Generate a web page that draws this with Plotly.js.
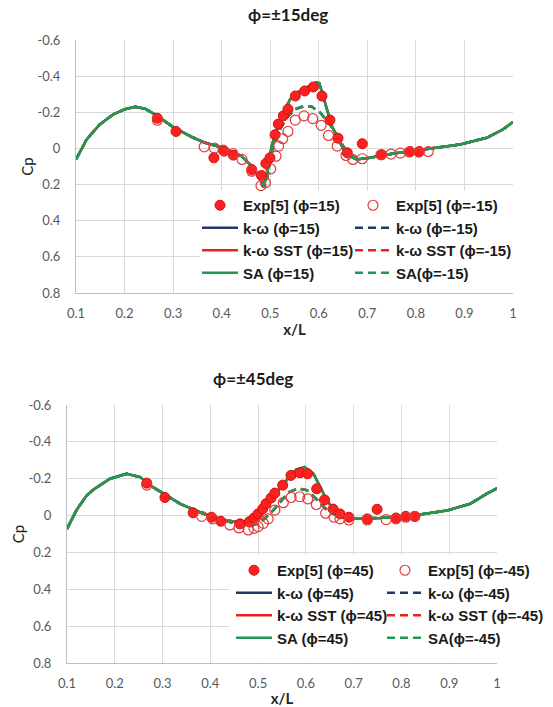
<!DOCTYPE html>
<html>
<head>
<meta charset="utf-8">
<script src="https://cdn.plot.ly/plotly-3.0.1.min.js"></script>
<style>html,body{margin:0;padding:0;background:#fff;}#chart{width:553px;height:707px;}</style>
</head>
<body>
<div id="chart"></div>
<script>
// ---------- Top chart: phi = ±15 deg ----------
const exp15X = [0.2675,0.306,0.384,0.405,0.424,0.462,0.482,0.491,0.4995,0.510,0.5166,0.527,0.5366,0.5517,0.571,0.5887,0.6066,0.623,0.6395,0.6587,0.6896,0.7295,0.7878,0.807];
const exp15Cp = [-0.167,-0.094,0.052,0.015,0.037,0.117,0.150,0.083,0.052,-0.076,-0.135,-0.180,-0.217,-0.290,-0.318,-0.340,-0.290,-0.157,-0.057,0.024,-0.026,0.035,0.017,0.017];
const expM15X = [0.2675,0.364,0.385,0.403,0.4227,0.442,0.462,0.481,0.490,0.501,0.512,0.5174,0.5256,0.5366,0.5517,0.5695,0.5874,0.605,0.620,0.638,0.656,0.670,0.6896,0.728,0.7487,0.768,0.7864,0.806,0.8255];
const expM15Cp = [-0.156,-0.009,-0.002,0.009,0.028,0.061,0.126,0.206,0.190,0.113,0.043,-0.013,-0.054,-0.094,-0.157,-0.180,-0.165,-0.128,-0.072,-0.013,0.039,0.061,0.057,0.035,0.031,0.026,0.020,0.020,0.017];

// CFD curves (k-ω, k-ω SST and SA overlap almost exactly in the picture)
const cfd15X = [0.100,0.122,0.149,0.177,0.201,0.222,0.242,0.266,0.300,0.342,0.366,0.403,0.441,0.462,0.479,0.486,0.494,0.503,0.513,0.527,0.541,0.555,0.575,0.594,0.601,0.613,0.627,0.644,0.657,0.678,0.705,0.754,0.822,0.891,0.946,0.980,1.000];
const cfd15Cp = [0.061,-0.050,-0.133,-0.189,-0.217,-0.230,-0.220,-0.183,-0.118,-0.059,-0.031,-0.004,0.043,0.098,0.163,0.215,0.135,-0.013,-0.096,-0.198,-0.272,-0.309,-0.337,-0.365,-0.361,-0.254,-0.124,-0.031,0.033,0.061,0.052,0.028,0.002,-0.022,-0.059,-0.106,-0.146];
const cfdM15X = [0.100,0.122,0.149,0.177,0.201,0.222,0.242,0.266,0.300,0.342,0.366,0.403,0.441,0.462,0.479,0.487,0.494,0.506,0.520,0.534,0.551,0.568,0.585,0.603,0.620,0.637,0.650,0.664,0.681,0.705,0.754,0.822,0.891,0.946,0.980,1.000];
const cfdM15Cp = [0.061,-0.050,-0.133,-0.189,-0.217,-0.230,-0.220,-0.183,-0.118,-0.059,-0.031,-0.004,0.043,0.098,0.163,0.212,0.160,-0.013,-0.106,-0.170,-0.217,-0.232,-0.232,-0.198,-0.143,-0.078,-0.013,0.035,0.058,0.052,0.028,0.002,-0.022,-0.059,-0.106,-0.146];

// ---------- Bottom chart: phi = ±45 deg ----------
const exp45X = [0.267,0.305,0.364,0.4025,0.422,0.462,0.4815,0.4914,0.500,0.5096,0.5165,0.527,0.535,0.5515,0.5688,0.5876,0.6036,0.6226,0.639,0.657,0.6714,0.690,0.7285,0.749,0.7886,0.809,0.828];
const exp45Cp = [-0.176,-0.098,-0.015,0.009,0.031,0.045,0.034,0.013,-0.009,-0.036,-0.064,-0.095,-0.122,-0.165,-0.218,-0.232,-0.227,-0.145,-0.085,-0.035,-0.009,0.009,0.018,-0.034,0.013,0.004,0.004];
const expM45X = [0.267,0.382,0.405,0.441,0.460,0.4795,0.4914,0.500,0.511,0.521,0.535,0.5527,0.569,0.587,0.604,0.6218,0.6414,0.6588,0.6714,0.690,0.7285,0.768,0.7886,0.809,0.828];
const expM45Cp = [-0.165,0.004,0.018,0.051,0.067,0.078,0.069,0.060,0.042,0.018,-0.030,-0.070,-0.098,-0.102,-0.091,-0.060,-0.013,0.009,0.018,0.024,0.024,0.022,0.018,0.009,0.005];

const cfd45X = [0.100,0.120,0.141,0.155,0.190,0.211,0.225,0.253,0.280,0.337,0.378,0.420,0.462,0.480,0.497,0.515,0.532,0.553,0.580,0.597,0.616,0.626,0.644,0.657,0.671,0.699,0.755,0.825,0.895,0.944,0.978,1.000];
const cfd45Cp = [0.072,-0.030,-0.109,-0.140,-0.200,-0.218,-0.227,-0.209,-0.154,-0.064,-0.018,0.024,0.036,0.040,0.010,-0.050,-0.100,-0.173,-0.249,-0.263,-0.227,-0.173,-0.082,-0.036,0.000,0.015,0.013,0.000,-0.027,-0.064,-0.118,-0.148];
const cfdM45X = [0.100,0.120,0.141,0.155,0.190,0.211,0.225,0.253,0.280,0.337,0.378,0.420,0.462,0.480,0.497,0.515,0.532,0.550,0.565,0.584,0.602,0.620,0.640,0.660,0.680,0.699,0.755,0.825,0.895,0.944,0.978,1.000];
const cfdM45Cp = [0.072,-0.030,-0.109,-0.140,-0.200,-0.218,-0.227,-0.209,-0.154,-0.064,-0.018,0.024,0.045,0.060,0.045,0.015,-0.030,-0.085,-0.127,-0.147,-0.138,-0.095,-0.040,-0.005,0.012,0.015,0.013,0.000,-0.027,-0.064,-0.118,-0.148];

// ---------- Axis ticks ----------
const xTickVals = [0.1,0.2,0.3,0.4,0.5,0.6,0.7,0.8,0.9,1];
const xTickText = ["0.1","0.2","0.3","0.4","0.5","0.6","0.7","0.8","0.9","1"];
const yTickVals = [-0.6,-0.4,-0.2,0,0.2,0.4,0.6,0.8];
const yTickText = ["-0.6","-0.4","-0.2","0","0.2","0.4","0.6","0.8"];

const BLUE = '#203864', RED = '#E8231F', GREEN = '#1F9A52';

function lineTrace(x, y, name, color, dash, xa, ya, leg, rank) {
  return {x: x, y: y, name: name, type: 'scatter', mode: 'lines',
    line: {color: color, width: 2.5, dash: dash},
    xaxis: xa, yaxis: ya, legend: leg, legendrank: rank, hoverinfo: 'skip'};
}
function expTrace(x, y, name, filled, xa, ya, leg, rank) {
  return {x: x, y: y, name: name, type: 'scatter', mode: 'markers',
    marker: filled ? {symbol: 'circle', size: 10, color: '#FF1F1F', line: {color: '#D01010', width: 1}}
                   : {symbol: 'circle-open', size: 10, color: '#E23B3B', line: {width: 1.2}},
    xaxis: xa, yaxis: ya, legend: leg, legendrank: rank, hoverinfo: 'skip'};
}
const DASH = '8px,5px';

const traces = [
  lineTrace(cfd15X, cfd15Cp, 'k-ω (ϕ=15)', BLUE, 'solid', 'x', 'y', 'legend', 2),
  lineTrace(cfdM15X, cfdM15Cp, 'k-ω (ϕ=-15)', BLUE, DASH, 'x', 'y', 'legend2', 2),
  lineTrace(cfd15X, cfd15Cp, 'k-ω SST (ϕ=15)', RED, 'solid', 'x', 'y', 'legend', 3),
  lineTrace(cfdM15X, cfdM15Cp, 'k-ω SST (ϕ=-15)', RED, DASH, 'x', 'y', 'legend2', 3),
  lineTrace(cfd15X, cfd15Cp, 'SA (ϕ=15)', GREEN, 'solid', 'x', 'y', 'legend', 4),
  lineTrace(cfdM15X, cfdM15Cp, 'SA(ϕ=-15)', GREEN, DASH, 'x', 'y', 'legend2', 4),
  expTrace(exp15X, exp15Cp, 'Exp[5] (ϕ=15)', true, 'x', 'y', 'legend', 1),
  expTrace(expM15X, expM15Cp, 'Exp[5] (ϕ=-15)', false, 'x', 'y', 'legend2', 1),

  lineTrace(cfd45X, cfd45Cp, 'k-ω (ϕ=45)', BLUE, 'solid', 'x2', 'y2', 'legend3', 2),
  lineTrace(cfdM45X, cfdM45Cp, 'k-ω (ϕ=-45)', BLUE, DASH, 'x2', 'y2', 'legend4', 2),
  lineTrace(cfd45X, cfd45Cp, 'k-ω SST (ϕ=45)', RED, 'solid', 'x2', 'y2', 'legend3', 3),
  lineTrace(cfdM45X, cfdM45Cp, 'k-ω SST (ϕ=-45)', RED, DASH, 'x2', 'y2', 'legend4', 3),
  lineTrace(cfd45X, cfd45Cp, 'SA (ϕ=45)', GREEN, 'solid', 'x2', 'y2', 'legend3', 4),
  lineTrace(cfdM45X, cfdM45Cp, 'SA(ϕ=-45)', GREEN, DASH, 'x2', 'y2', 'legend4', 4),
  expTrace(exp45X, exp45Cp, 'Exp[5] (ϕ=45)', true, 'x2', 'y2', 'legend3', 1),
  expTrace(expM45X, expM45Cp, 'Exp[5] (ϕ=-45)', false, 'x2', 'y2', 'legend4', 1)
];

const tickFont = {family: 'Lato, "DejaVu Sans", sans-serif', size: 13, color: '#595959'};
const axTitleFont = {family: 'Lato, "DejaVu Sans", sans-serif', size: 15, color: '#262626'};
const W = 553, H = 707, ML = 66, MR = 40;
const PW = W - ML - MR;
function px(p) { return (p - ML) / PW; }
function py(p) { return 1 - p / H; }

function xAxis(domain, anchor) {
  return {domain: domain, anchor: anchor, range: [0.1, 1], tickmode: 'array', tickvals: xTickVals, ticktext: xTickText,
    showgrid: true, gridcolor: '#D9D9D9', gridwidth: 1, zeroline: false,
    showline: true, linecolor: '#BFBFBF', linewidth: 1, mirror: false, layer: 'above traces',
    ticks: '', ticklabelstandoff: 8, tickfont: tickFont,
    title: {text: '<b>x/L</b>', font: {family: 'Lato, "DejaVu Sans", sans-serif', size: 15, color: '#262626'}, standoff: 4}};
}
function yAxis(domain, anchor) {
  return {domain: domain, anchor: anchor, range: [0.8, -0.6], tickmode: 'array', tickvals: yTickVals, ticktext: yTickText,
    showgrid: true, gridcolor: '#D9D9D9', gridwidth: 1, zeroline: false,
    showline: true, linecolor: '#BFBFBF', linewidth: 1,
    ticks: '', ticklabelstandoff: 12, tickfont: tickFont,
    title: {text: 'Cp', font: axTitleFont, standoff: 0}};
}

const legendFont = {family: '"Liberation Sans", Arial, sans-serif', size: 15, color: '#1A1A1A', weight: 'bold'};
function legendAt(xp, yp) {
  return {x: px(xp), y: py(yp), xanchor: 'left', yanchor: 'top', orientation: 'v', itemwidth: 36,
    bgcolor: 'rgba(255,255,255,0)', borderwidth: 0, traceorder: 'normal', font: legendFont};
}

const layout = {
  width: W, height: H,
  margin: {l: ML, r: MR, t: 0, b: 0},
  paper_bgcolor: '#fff', plot_bgcolor: '#fff',
  showlegend: true,
  xaxis: xAxis([px(76), px(513)], 'y'),
  yaxis: yAxis([py(293), py(40)], 'x'),
  xaxis2: xAxis([px(67), px(497)], 'y2'),
  yaxis2: yAxis([py(663), py(405)], 'x2'),
  legend: legendAt(197, 189),
  legend2: legendAt(350, 189),
  legend3: legendAt(231, 554),
  legend4: legendAt(382, 554),
  shapes: [
    // white legend boxes hiding the gridlines behind the legends
    {type: 'rect', xref: 'x', yref: 'y', x0: 0.355, x1: 0.9995, y0: 0.232, y1: 0.797,
      fillcolor: '#fff', line: {width: 0}, layer: 'between'},
    {type: 'rect', xref: 'x2', yref: 'y2', x0: 0.439, x1: 0.9995, y0: 0.212, y1: 0.797,
      fillcolor: '#fff', line: {width: 0}, layer: 'between'}
  ],
  annotations: [
    {text: '<b>ϕ=±15deg</b>', xref: 'paper', yref: 'paper', x: px(288), y: py(15), xanchor: 'center', yanchor: 'middle',
      showarrow: false, font: {family: 'Lato, "DejaVu Sans", sans-serif', size: 17, color: '#1A1A1A'}},
    {text: '<b>ϕ=±45deg</b>', xref: 'paper', yref: 'paper', x: px(253), y: py(378), xanchor: 'center', yanchor: 'middle',
      showarrow: false, font: {family: 'Lato, "DejaVu Sans", sans-serif', size: 17, color: '#1A1A1A'}}
  ]
};

Plotly.newPlot('chart', traces, layout, {displayModeBar: false, staticPlot: true});
</script>
</body>
</html>
